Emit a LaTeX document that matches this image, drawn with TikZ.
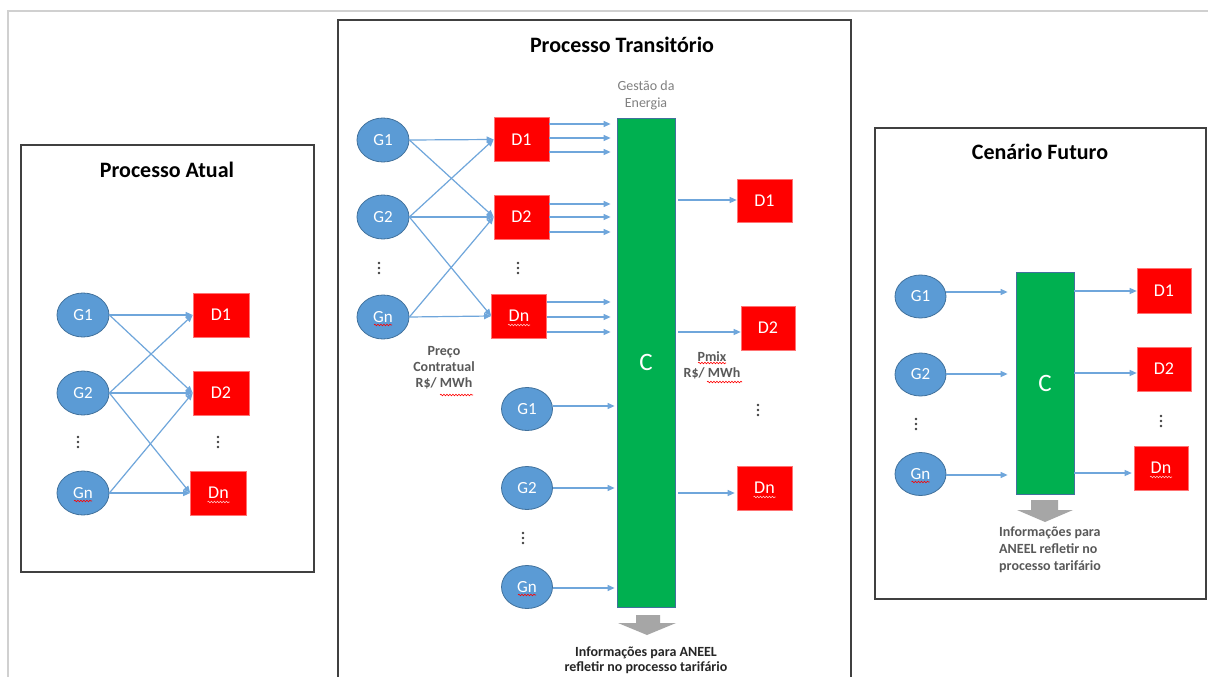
\documentclass[tikz,border=0pt]{standalone}
\usepackage{fontspec}
\setmainfont{Carlito}
\usetikzlibrary{shapes.geometric,arrows.meta,decorations.pathmorphing,calc}
\definecolor{arrblue}{HTML}{6FA6DB}
\definecolor{gfill}{HTML}{5B9BD5}
\definecolor{gline}{HTML}{41719C}
\definecolor{dred}{HTML}{FF0000}
\definecolor{cgreen}{HTML}{00B050}
\definecolor{panelc}{HTML}{404040}
\definecolor{txtgray}{HTML}{595959}
\definecolor{blockgray}{HTML}{A6A6A6}
\definecolor{framegray}{HTML}{D0D0D0}
\begin{document}
\begin{tikzpicture}[x=1pt,y=-1pt,
  gen/.style={ellipse, fill=gfill, draw=gline, line width=0.8pt, minimum width=52pt, minimum height=44pt, inner sep=0pt, text=white, font=\fontsize{17}{17}\selectfont},
  dist/.style={rectangle, fill=dred, draw=red!55!white, line width=0.6pt, minimum width=55pt, minimum height=44pt, inner sep=0pt, text=white, font=\fontsize{18}{18}\selectfont},
  cbar/.style={rectangle, fill=cgreen, draw=gline, line width=0.8pt, inner sep=0pt, text=white, font=\fontsize{25}{25}\selectfont},
  arr/.style={draw=arrblue, line width=1.2pt, -{Triangle[length=7pt,width=6pt]}},
  panelbox/.style={draw=panelc, line width=1.5pt},
  ptitle/.style={font=\bfseries\fontsize{22}{22}\selectfont, text=black},
  note/.style={font=\bfseries\fontsize{14}{16}\selectfont, text=txtgray, align=center, inner sep=0pt},
  squig/.style={decorate, decoration={snake, amplitude=0.8pt, segment length=3pt}, draw=red, line width=0.6pt},
  squigw/.style={decorate, decoration={snake, amplitude=0.8pt, segment length=3pt}, draw=red!25!white, line width=0.6pt}
]
\useasboundingbox (0,0) rectangle (1208,677);
\fill[white] (0,0) rectangle (1208,677);
% outer frame
\draw[framegray, line width=1.5pt] (8,677) -- (8,11) -- (1208,11);

% ===== Processo Atual =====
\draw[panelbox] (21,145) rectangle (314,572);
\node[ptitle] (t1) at (167,170) {Processo Atual};
\node[gen] (g1a) at (83,315) {G1};
\node[gen] (g2a) at (83,393) {G2};
\node[gen] (gna) at (83,493) {Gn};
\node[dist, minimum width=56pt] (d1a) at (221,315) {D1};
\node[dist, minimum width=56pt] (d2a) at (221,393) {D2};
\node[dist, minimum width=56pt] (dna) at (218.5,493) {Dn};
\draw[arr] (g1a.east) -- (d1a.west);
\draw[arr] (g1a.east) -- (d2a.west);
\draw[arr] (g2a.east) -- (d1a.west);
\draw[arr] (g2a.east) -- (d2a.west);
\draw[arr] (g2a.east) -- (dna.west);
\draw[arr] (gna.east) -- (d2a.west);
\draw[arr] (gna.east) -- (dna.west);

% ===== Processo Transitorio =====
\draw[panelbox] (338,677) -- (338,20) -- (851,20) -- (851,677);
\node[ptitle] (t2) at (622,45) {Processo Transitório};
\node[font=\fontsize{14}{17}\selectfont, text=gray, align=center] (gest) at (646,95) {Gestão da\\Energia};
\node[cbar, minimum width=58pt, minimum height=489pt] (barm) at (646,362.5) {C};
\node[gen] (g1b) at (383,140) {G1};
\node[gen] (g2b) at (383,217) {G2};
\node[gen] (gnb) at (383,317) {Gn};
\node[dist] (d1b) at (521.5,139.5) {D1};
\node[dist] (d2b) at (521.5,217) {D2};
\node[dist] (dnb) at (519,316) {Dn};
\draw[arr] (g1b.east) -- (d1b.west);
\draw[arr] (g1b.east) -- (d2b.west);
\draw[arr] (g2b.east) -- (d1b.west);
\draw[arr] (g2b.east) -- (d2b.west);
\draw[arr] (g2b.east) -- (dnb.west);
\draw[arr] (gnb.east) -- (d2b.west);
\draw[arr] (gnb.east) -- (dnb.west);
\foreach \yy in {124,138,152} \draw[arr, shorten >=6pt] (d1b.east |- 0,\yy) -- (barm.west |- 0,\yy);
\foreach \yy in {204,217,232} \draw[arr, shorten >=6pt] (d2b.east |- 0,\yy) -- (barm.west |- 0,\yy);
\foreach \yy in {302,317,332} \draw[arr, shorten >=6pt] (dnb.east |- 0,\yy) -- (barm.west |- 0,\yy);
\node[note] (preco) at (444,368) {Preço\\Contratual\\R\$/ MWh};
\node[gen, minimum width=51pt, minimum height=43pt] (g1c) at (527,409) {G1};
\node[gen, minimum width=51pt, minimum height=43pt] (g2c) at (527,488) {G2};
\node[gen, minimum width=51pt, minimum height=43pt] (gnc) at (527,587) {Gn};
\draw[arr, shorten >=2pt] (g1c.east |- 0,406) -- (barm.west |- 0,406);
\draw[arr, shorten >=2pt] (g2c.east |- 0,488) -- (barm.west |- 0,488);
\draw[arr, shorten >=2pt] (gnc.east |- 0,588) -- (barm.west |- 0,588);
\node[dist, minimum height=43pt] (d1c) at (764.5,200.5) {D1};
\node[dist, minimum width=54pt] (d2c) at (768,328) {D2};
\node[dist] (dnc) at (764.5,488) {Dn};
\draw[arr, shorten <=3pt] (barm.east |- 0,200) -- (d1c.west |- 0,200);
\draw[arr, shorten <=3pt] (barm.east |- 0,332) -- (d2c.west |- 0,332);
\draw[arr, shorten <=3pt, shorten >=2pt] (barm.east |- 0,493) -- (dnc.west |- 0,493);
\node[note] (pmix) at (712,365) {Pmix\\R\$/ MWh};
\fill[blockgray] (636,615) -- (660,615) -- (660,623) -- (676,623) -- (647,635) -- (618,623) -- (636,623) -- cycle;
\node[font=\bfseries\fontsize{14}{15}\selectfont, text=black!85, align=center] (info1) at (646,660) {Informações para ANEEL\\refletir no processo tarifário};

% ===== Cenario Futuro =====
\draw[panelbox] (875,128) rectangle (1206,599);
\node[ptitle] (t3) at (1040,152) {Cenário Futuro};
\node[cbar, minimum width=58pt, minimum height=222pt] (bard) at (1045,383) {C};
\node[gen, minimum width=51pt, minimum height=43pt] (g1d) at (920.5,296.5) {G1};
\node[gen, minimum width=51pt, minimum height=43pt] (g2d) at (920.5,374.5) {G2};
\node[gen, minimum width=51pt, minimum height=43pt] (gnd) at (920.5,474) {Gn};
\node[dist, minimum width=54pt, minimum height=45pt] (d1e) at (1164,290.5) {D1};
\node[dist, minimum width=54pt] (d2e) at (1164,369) {D2};
\node[dist, minimum width=54pt] (dne) at (1161,468) {Dn};
\draw[arr, shorten >=8pt] (g1d.east |- 0,292) -- (bard.west |- 0,292);
\draw[arr, shorten >=8pt] (g2d.east |- 0,374) -- (bard.west |- 0,374);
\draw[arr, shorten >=8pt] (gnd.east |- 0,475) -- (bard.west |- 0,475);
\draw[arr] (bard.east |- 0,291) -- (d1e.west |- 0,291);
\draw[arr] (bard.east |- 0,373) -- (d2e.west |- 0,373);
\draw[arr, shorten >=2pt] (bard.east |- 0,473) -- (dne.west |- 0,473);
\fill[blockgray] (1031,500) -- (1058,500) -- (1058,510) -- (1073,510) -- (1045,522) -- (1017,510) -- (1031,510) -- cycle;
\node[note, align=left, anchor=west, font=\bfseries\fontsize{14}{17}\selectfont] (info2) at (999,550) {Informações para\\ANEEL refletir no\\processo tarifário};

% vertical dots
\foreach \xx/\yy in {78/442, 218/442, 379/268, 518/268, 523/538, 758/410, 916/424, 1161/421}
  {\foreach \dd in {-5,0,5} \fill[panelc] (\xx,\yy+\dd) circle (1.3pt);}

% spell-check squiggles
\foreach \nn in {gna,gnb,gnc} \draw[squig] ($(\nn)+(-9,8)$) -- ++(18,0);
\draw[squig] ($(gnd)+(-9,8)$) -- ++(18,0);
\foreach \nn in {dna,dnb,dnc,dne} \draw[squigw] ($(\nn)+(-11,9)$) -- ++(22,0);
\draw[squig] (440,395) -- (473,395);
\draw[squig] (698,363) -- (726,363);
\draw[squig] (707,382) -- (742,382);
\end{tikzpicture}
\end{document}
